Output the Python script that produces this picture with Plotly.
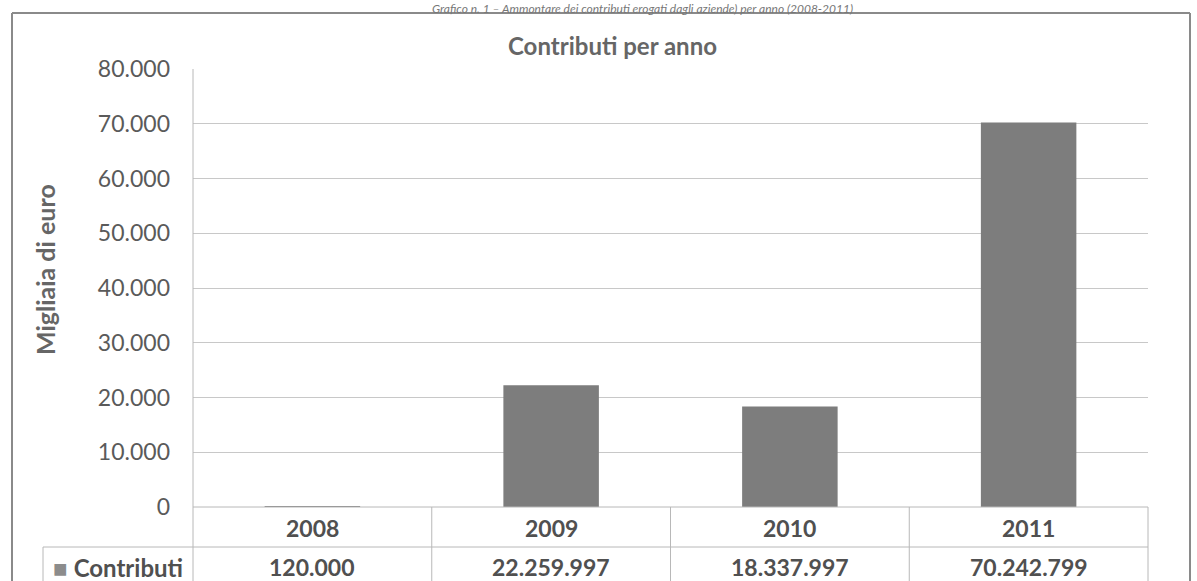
import plotly.graph_objects as go

# ---------------- data ----------------
years = ["2008", "2009", "2010", "2011"]
contributi_euro = [120000, 22259997, 18337997, 70242799]
contributi_migliaia = [v / 1000 for v in contributi_euro]
y_tick_vals = [0, 10000, 20000, 30000, 40000, 50000, 60000, 70000, 80000]
y_tick_text = ["0", "10.000", "20.000", "30.000", "40.000", "50.000", "60.000", "70.000", "80.000"]
series_name = "Contributi"
chart_title = "Contributi per anno"
y_title = "Migliaia di euro"
caption = "Grafico n. 1 – Ammontare dei contributi erogati dagli aziende) per anno (2008-2011)"

# ---------------- layout geometry ----------------
W, H = 1197, 581
L, R, T, B = 193, 1148, 69, 507   # plot area in pixels


def px(x):
    return (x - L) / (R - L)


def py(y):
    return (B - y) / (B - T)


FONT = "Lato, 'Open Sans', sans-serif"
TXT = "#505050"
LINE = "#b8b8b8"
BAR = "#7d7d7d"

fig = go.Figure()
fig.add_trace(go.Bar(
    x=years, y=contributi_migliaia, name=series_name,
    marker=dict(color=BAR, line=dict(width=0)),
    width=0.40, showlegend=False, hoverinfo="x+y",
))

shapes = []


def hline(y, x0, x1, color=LINE, w=1):
    shapes.append(dict(type="line", xref="paper", yref="paper",
                       x0=px(x0), x1=px(x1), y0=py(y), y1=py(y),
                       line=dict(color=color, width=w)))


def vline(x, y0, y1, color=LINE, w=1):
    shapes.append(dict(type="line", xref="paper", yref="paper",
                       x0=px(x), x1=px(x), y0=py(y0), y1=py(y1),
                       line=dict(color=color, width=w)))


# outer chart frame
hline(13, 12, 1190, color="#8a8a8a", w=2)
vline(12, 13, 600, color="#8a8a8a", w=2)
vline(1190, 13, 600, color="#8a8a8a", w=2)

# axis + data table lines
vline(L, T, 600)
hline(B, L, R)
hline(547, 43, R)
vline(43, 547, 600)
n = len(years)
for i in range(1, n + 1):
    xb = L + (R - L) * i / n
    vline(xb, B, 600)

annotations = []
# title
annotations.append(dict(text="<b>" + chart_title + "</b>", xref="paper", yref="paper",
                        x=px(612), y=py(45), showarrow=False,
                        font=dict(family=FONT, size=24, color="#666666"),
                        xanchor="center", yanchor="middle"))
# caption (at the very top of the page)
annotations.append(dict(text="<i>" + caption + "</i>", xref="paper", yref="paper",
                        x=px(642), y=py(0), showarrow=False, borderpad=0,
                        font=dict(family=FONT, size=12, color="#777777"),
                        xanchor="center", yanchor="top"))
# y axis title
annotations.append(dict(text="<b>" + y_title + "</b>", xref="paper", yref="paper",
                        x=px(45), y=py(270), showarrow=False, textangle=-90,
                        font=dict(family=FONT, size=25, color="#666666"),
                        xanchor="center", yanchor="middle"))
# data table text (placed on the category axis by index)
for i, (yr, v) in enumerate(zip(years, contributi_euro)):
    annotations.append(dict(text="<b>" + yr + "</b>", xref="x", yref="paper",
                            x=i, y=py(528), showarrow=False,
                            font=dict(family=FONT, size=23, color=TXT),
                            xanchor="center", yanchor="middle"))
    label = f"{v:,}".replace(",", ".")
    annotations.append(dict(text="<b>" + label + "</b>", xref="x", yref="paper",
                            x=i, y=py(567), showarrow=False,
                            font=dict(family=FONT, size=23, color=TXT),
                            xanchor="center", yanchor="middle"))
annotations.append(dict(text='<span style="color:#8c8c8c">■</span> <b>' + series_name + "</b>",
                        xref="paper", yref="paper", x=px(118), y=py(567), showarrow=False,
                        font=dict(family=FONT, size=24, color=TXT),
                        xanchor="center", yanchor="middle"))

fig.update_layout(
    width=W, height=H,
    margin=dict(l=L, r=W - R, t=T, b=H - B, pad=0),
    paper_bgcolor="white", plot_bgcolor="white",
    shapes=shapes, annotations=annotations,
    xaxis=dict(type="category", showticklabels=False, ticks="", showgrid=False,
               zeroline=False, showline=False, categoryorder="array",
               categoryarray=years, range=[-0.5, len(years) - 0.5]),
    yaxis=dict(range=[0, 80000], tickvals=y_tick_vals, ticktext=y_tick_text,
               showgrid=True, gridcolor="#c8c8c8", gridwidth=1, zeroline=False,
               showline=False, ticks="", ticklabelstandoff=22,
               tickfont=dict(family=FONT, size=23, color="#5a5a5a")),
    font=dict(family=FONT),
)

fig.write_html("out.html")
